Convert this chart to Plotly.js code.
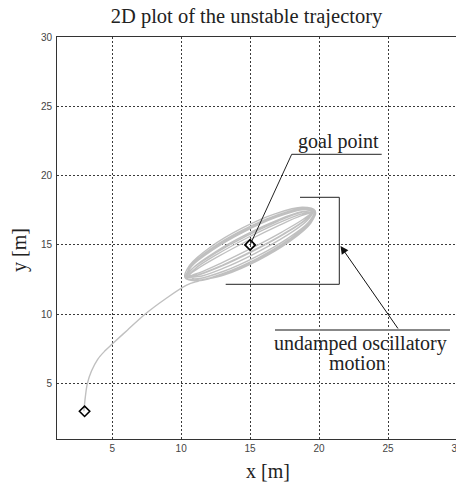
<!DOCTYPE html>
<html>
<head>
<meta charset="utf-8">
<script src="https://cdn.plot.ly/plotly-3.0.1.min.js"></script>
<style>
html,body{margin:0;padding:0;overflow:hidden;background:#fff;}
#chart{width:458px;height:486px;}
</style>
</head>
<body>
<div id="chart"></div>
<script>
// Approach path from the start point into the oscillation
const approachX = [2.95, 3.05, 3.20, 3.50, 3.95, 4.50, 5.00, 6.10, 7.38, 8.85, 10.40];
const approachY = [3.00, 4.00, 5.00, 5.90, 6.75, 7.38, 7.85, 8.85, 10.00, 11.10, 12.10];
// Undamped oscillation loops around the goal point
const loopX = [
  11.21, 13.15, 15.59, 17.87, 19.39, 19.72, 18.80, 16.85, 14.41, 12.13, 10.62, 10.28,
  11.26, 13.16, 15.57, 17.84, 19.36, 19.73, 18.84, 16.94, 14.53, 12.26, 10.74, 10.37,
  11.22, 13.08, 15.45, 17.71, 19.24, 19.63, 18.78, 16.92, 14.55, 12.29, 10.76, 10.37,
  11.12, 12.89, 15.22, 17.48, 19.06, 19.54, 18.78, 17.01, 14.68, 12.42, 10.84, 10.36,
  11.24, 13.03, 15.34, 17.57, 19.10, 19.54, 18.76, 16.98, 14.66, 12.44, 10.90, 10.46,
  11.25, 12.97, 15.23, 17.43, 18.97, 19.46, 18.75, 17.03, 14.77, 12.57, 11.03, 10.55,
  11.29, 12.94, 15.14, 17.30, 18.85, 19.37, 18.71, 17.06, 14.86, 12.70, 11.15, 10.63,
  11.23, 13.10, 15.50, 17.78, 19.30, 19.66, 18.79, 16.89, 14.48, 12.20, 10.70, 10.33
];
const loopY = [
  12.38, 12.84, 13.89, 15.25, 16.56, 17.46, 17.72, 17.26, 16.21, 14.85, 13.54, 12.64,
  12.42, 12.92, 13.98, 15.30, 16.55, 17.39, 17.58, 17.08, 16.03, 14.70, 13.45, 12.62,
  12.56, 13.10, 14.16, 15.46, 16.64, 17.41, 17.54, 17.00, 15.94, 14.64, 13.46, 12.69,
  12.79, 13.45, 14.55, 15.79, 16.84, 17.42, 17.37, 16.71, 15.62, 14.37, 13.32, 12.74,
  12.71, 13.31, 14.38, 15.63, 16.73, 17.37, 17.39, 16.79, 15.72, 14.47, 13.37, 12.73,
  12.86, 13.53, 14.60, 15.80, 16.80, 17.32, 17.24, 16.57, 15.50, 14.30, 13.30, 12.78,
  12.99, 13.71, 14.78, 15.93, 16.85, 17.27, 17.11, 16.39, 15.32, 14.17, 13.25, 12.83,
  12.47, 12.97, 14.02, 15.36, 16.60, 17.44, 17.63, 17.13, 16.08, 14.75, 13.50, 12.66
];
const startPoint = [3, 3];
const goalPoint = [15, 15];
const xTicks = [5, 10, 15, 20, 25, 30];
const yTicks = [5, 10, 15, 20, 25, 30];

const trajX = approachX.concat(loopX);
const trajY = approachY.concat(loopY);

const serif = '"Liberation Serif", "Times New Roman", serif';
const sans = '"Liberation Sans", Arial, sans-serif';

// pixel -> data helpers for placing annotations (plot area 57..457 x 37..439, range 1..30)
const PX = p => 1 + (p - 57) * 29 / 400;
const PY = p => 1 + (439 - p) * 29 / 402;

const traces = [
  {x: trajX, y: trajY, mode: 'lines', type: 'scatter',
   line: {color: '#c0c0c0', width: 1.4, shape: 'spline', smoothing: 1.0},
   hoverinfo: 'skip'},
  {x: [startPoint[0], goalPoint[0]], y: [startPoint[1], goalPoint[1]], mode: 'markers', type: 'scatter',
   marker: {symbol: 'diamond-open', size: 8, color: '#000', line: {width: 1.6, color: '#000'}}}
];

const axisCommon = {
  range: [1, 30], showline: true, mirror: true, linecolor: '#333', linewidth: 1,
  showgrid: true, gridcolor: '#3a3a3a', gridwidth: 1, griddash: '2px,2px',
  zeroline: false, ticks: '', tickfont: {family: sans, size: 10, color: '#444'},
  ticklabeloverflow: 'allow', fixedrange: true
};

const layout = {
  width: 458, height: 486,
  margin: {l: 57, r: 1, t: 37, b: 47},
  paper_bgcolor: '#fff', plot_bgcolor: '#fff',
  showlegend: false,
  title: {text: '2D plot of the unstable trajectory', font: {family: serif, size: 20.5, color: '#222'},
          xref: 'container', x: 246.5 / 458, xanchor: 'center', yref: 'container', y: 1 - 16 / 486, yanchor: 'middle'},
  xaxis: Object.assign({}, axisCommon, {tickvals: xTicks, ticktext: xTicks.map(String)}),
  yaxis: Object.assign({}, axisCommon, {tickvals: yTicks, ticktext: yTicks.map(String), ticklabelstandoff: 2}),
  shapes: [
    // goal point leader and underline
    {type: 'line', xref: 'x', yref: 'y', x0: PX(291.7), y0: PY(154.3), x1: goalPoint[0], y1: goalPoint[1], line: {color: '#222', width: 1}},
    {type: 'line', xref: 'x', yref: 'y', x0: PX(291.7), y0: PY(154.3), x1: PX(381.7), y1: PY(154.3), line: {color: '#222', width: 1}},
    // bracket
    {type: 'line', xref: 'x', yref: 'y', x0: PX(300), y0: PY(197.3), x1: PX(339.3), y1: PY(197.3), line: {color: '#222', width: 1}},
    {type: 'line', xref: 'x', yref: 'y', x0: PX(339.3), y0: PY(197.3), x1: PX(339.3), y1: PY(284.3), line: {color: '#222', width: 1}},
    {type: 'line', xref: 'x', yref: 'y', x0: PX(225.7), y0: PY(284.3), x1: PX(339.3), y1: PY(284.3), line: {color: '#222', width: 1}},
    // gray line above the motion label
    {type: 'line', xref: 'x', yref: 'y', x0: PX(275), y0: PY(330), x1: PX(450), y1: PY(330), line: {color: '#888', width: 2}}
  ],
  annotations: [
    {x: PX(338), y: PY(141), xref: 'x', yref: 'y', text: 'goal point', showarrow: false,
     font: {family: serif, size: 20, color: '#222'}, xanchor: 'center', yanchor: 'middle'},
    {x: PX(360), y: PY(343), xref: 'x', yref: 'y', text: 'undamped oscillatory', showarrow: false,
     font: {family: serif, size: 20, color: '#222'}, xanchor: 'center', yanchor: 'middle'},
    {x: PX(357), y: PY(363), xref: 'x', yref: 'y', text: 'motion', showarrow: false,
     font: {family: serif, size: 20, color: '#222'}, xanchor: 'center', yanchor: 'middle'},
    {x: PX(340.5), y: PY(246), xref: 'x', yref: 'y', text: '', showarrow: true,
     ax: 58.5, ay: 84, axref: 'pixel', ayref: 'pixel',
     arrowhead: 2, arrowsize: 1.6, arrowwidth: 1, arrowcolor: '#111'},
    {x: (268 - 57) / 400, y: (439 - 471) / 402, xref: 'paper', yref: 'paper', text: 'x [m]', showarrow: false,
     font: {family: serif, size: 20, color: '#222'}, xanchor: 'center', yanchor: 'middle'},
    {x: (19 - 57) / 400, y: (439 - 250) / 402, xref: 'paper', yref: 'paper', text: 'y [m]', showarrow: false, textangle: -90,
     font: {family: serif, size: 20, color: '#222'}, xanchor: 'center', yanchor: 'middle'}
  ]
};

Plotly.newPlot('chart', traces, layout, {displayModeBar: false, staticPlot: true});
</script>
</body>
</html>
